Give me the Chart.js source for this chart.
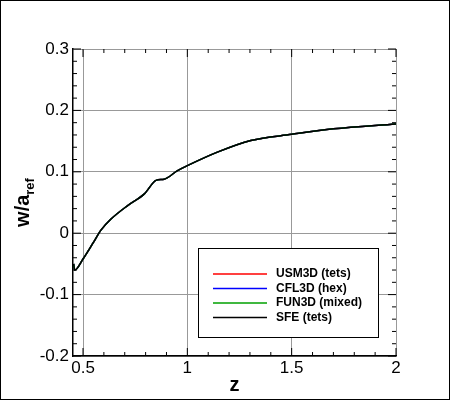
<!DOCTYPE html>
<html>
<head>
<meta charset="utf-8">
<script src="https://cdn.jsdelivr.net/npm/chart.js@4"></script>
<style>
  html, body { margin: 0; padding: 0; background: #fff; }
  #wrap { width: 448px; height: 398px; border: 1px solid #000; }
</style>
</head>
<body>
<div id="wrap"><canvas id="grafico" width="448" height="398"></canvas></div>
<script>
const zValores = [0.455, 0.46, 0.5, 0.55, 0.586, 0.634, 0.714, 0.794, 0.85, 0.889, 0.953, 1.0, 1.144, 1.304, 1.5, 1.7, 2.0];
const wValores = [-0.050, -0.060, -0.042, -0.015, 0.005, 0.023, 0.045, 0.064, 0.086, 0.088, 0.102, 0.110, 0.132, 0.151, 0.161, 0.170, 0.178];
const series = ['USM3D (tets)', 'CFL3D (hex)', 'FUN3D (mixed)', 'SFE (tets)'];
const cores = ['#ff0000', '#0000ff', '#00a000', '#000000'];
const xTicks = [0.5, 1, 1.5, 2];
const yTicks = [-0.2, -0.1, 0, 0.1, 0.2, 0.3];

const fonte = "'Liberation Sans', Arial, sans-serif";
const pontos = zValores.map((z, i) => ({ x: z, y: wValores[i] }));

// minor ticks, axis titles and boxed legend
const extras = {
  id: 'extras',
  afterDraw(chart) {
    const { ctx, chartArea: a, scales: { x, y } } = chart;
    ctx.save();
    ctx.strokeStyle = '#000';
    ctx.lineWidth = 1;
    ctx.beginPath();
    for (let v = 0.5; v <= 2.0001; v += 0.1) {
      const px = x.getPixelForValue(v);
      const len = Math.abs(v * 2 - Math.round(v * 2)) < 1e-6 ? 8 : 4;
      ctx.moveTo(px, a.bottom); ctx.lineTo(px, a.bottom - len);
      ctx.moveTo(px, a.top); ctx.lineTo(px, a.top + len);
    }
    for (let v = -0.2; v <= 0.3001; v += 0.02) {
      const py = y.getPixelForValue(v);
      const len = Math.abs(v * 10 - Math.round(v * 10)) < 1e-6 ? 8 : 4;
      ctx.moveTo(a.left, py); ctx.lineTo(a.left + len, py);
      ctx.moveTo(a.right, py); ctx.lineTo(a.right - len, py);
    }
    ctx.stroke();

    // eixo x
    ctx.fillStyle = '#000';
    ctx.font = 'bold 20px ' + fonte;
    ctx.textAlign = 'center';
    ctx.fillText('z', (a.left + a.right) / 2, 390);

    // eixo y
    ctx.translate(28, (a.top + a.bottom) / 2);
    ctx.rotate(-Math.PI / 2);
    ctx.textAlign = 'left';
    ctx.font = 'bold 20px ' + fonte;
    const w1 = ctx.measureText('w/a').width;
    ctx.font = 'bold 13px ' + fonte;
    const w2 = ctx.measureText('ref').width;
    const x0 = -(w1 + w2) / 2;
    ctx.font = 'bold 20px ' + fonte;
    ctx.fillText('w/a', x0, 0);
    ctx.font = 'bold 13px ' + fonte;
    ctx.fillText('ref', x0 + w1, 5);
    ctx.setTransform(1, 0, 0, 1, 0, 0);

    // legenda
    const lx = 197, ly = 247, lw = 180, lh = 89;
    ctx.fillStyle = '#fff';
    ctx.fillRect(lx, ly, lw, lh);
    ctx.strokeStyle = '#000';
    ctx.strokeRect(lx + 0.5, ly + 0.5, lw, lh);
    ctx.font = 'bold 12px ' + fonte;
    ctx.textAlign = 'left';
    ctx.textBaseline = 'middle';
    chart.data.datasets.forEach((ds, i) => {
      const yy = ly + 26 + i * 14.5;
      ctx.strokeStyle = ds.borderColor;
      ctx.lineWidth = 1.5;
      ctx.beginPath();
      ctx.moveTo(lx + 15, yy); ctx.lineTo(lx + 69, yy);
      ctx.stroke();
      ctx.fillStyle = '#000';
      ctx.fillText(ds.label, lx + 78, yy);
    });
    ctx.restore();
  }
};

new Chart(document.getElementById('grafico'), {
  type: 'line',
  data: {
    datasets: series.map((nome, i) => ({
      label: nome,
      data: pontos,
      borderColor: cores[i],
      borderWidth: 1.5,
      pointRadius: 0,
      fill: false,
      cubicInterpolationMode: 'monotone',
      order: series.length - i
    }))
  },
  options: {
    responsive: false,
    animation: false,
    layout: { padding: { top: 48, right: 53, left: 0, bottom: 0 } },
    plugins: { legend: { display: false }, tooltip: { enabled: false } },
    scales: {
      x: {
        type: 'linear', min: 0.452, max: 2,
        afterBuildTicks: s => { s.ticks = xTicks.map(v => ({ value: v })); },
        afterFit: s => { s.height = 43; },
        ticks: { color: '#000', font: { size: 17, family: fonte }, padding: 2, callback: v => String(v) },
        grid: { color: '#999', lineWidth: 1, drawTicks: false },
        border: { color: '#000', width: 1.5 }
      },
      y: {
        type: 'linear', min: -0.2, max: 0.3,
        afterBuildTicks: s => { s.ticks = yTicks.map(v => ({ value: v })); },
        afterFit: s => { s.width = 72; },
        ticks: { color: '#000', font: { size: 17, family: fonte }, padding: 4, callback: v => String(Math.round(v * 10) / 10) },
        grid: { color: '#999', lineWidth: 1, drawTicks: false },
        border: { color: '#000', width: 1.5 }
      }
    }
  },
  plugins: [extras]
});
</script>
</body>
</html>
